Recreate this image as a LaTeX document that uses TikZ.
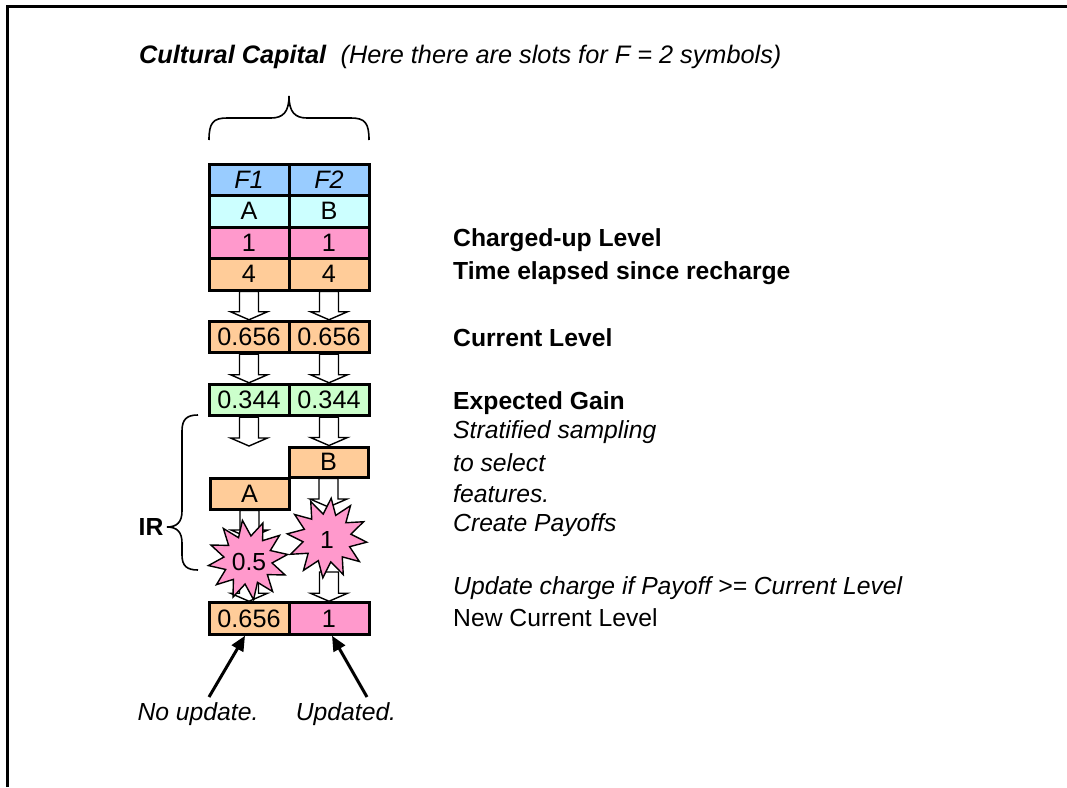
\documentclass[tikz,border=0pt]{standalone}
\usepackage{fontspec}
\setmainfont{Liberation Sans}
\usetikzlibrary{calc,shapes.geometric,arrows.meta}
\definecolor{cblue}{HTML}{99CCFF}
\definecolor{ccyan}{HTML}{CCFFFF}
\definecolor{cpink}{HTML}{FF99CC}
\definecolor{corange}{HTML}{FFCC99}
\definecolor{cgreen}{HTML}{CCFFCC}
\newcommand\blockarrow[2]{\draw[blockarr] let \p1=#1, \p2=#2 in
  (\x1-9.5pt,\y1) -- (\x1-9.5pt,\y2+8pt) -- (\x1-18.5pt,\y2+8pt) -- (\x1,\y2)
  -- (\x1+18.5pt,\y2+8pt) -- (\x1+9.5pt,\y2+8pt) -- (\x1+9.5pt,\y1) -- cycle;}
\begin{document}
\begin{tikzpicture}[x=1pt,y=-1pt,
  every node/.style={font=\fontsize{24.7}{29}\selectfont},
  cell/.style={draw, line width=3pt, minimum width=80pt, minimum height=31.5pt, inner sep=0pt, font=\fontsize{25.2}{29}\selectfont},
  blockarr/.style={draw, fill=white, line width=1.4pt, line join=miter},
  txt/.style={anchor=west, inner sep=0pt},
  brace/.style={draw, line width=1.6pt},
  burst/.style={star, star points=12, star point ratio=1.65, minimum size=80pt, inner sep=0pt, draw, line width=1.4pt, fill=cpink},
  pointer/.style={line width=3pt, -{Triangle[length=15pt,width=13pt]}}]
\useasboundingbox (0,0) rectangle (1067,787);
\fill[white] (0,0) rectangle (1067,787);
% frame
\draw[line width=2.5pt] (7.5,787) -- (7.5,6.5) -- (1067,6.5);
% title
\node[txt, font=\fontsize{25.3}{30}\selectfont] (title) at (139,57) {\textbf{\textit{Cultural Capital}}\ \ \textit{(Here there are slots for F = 2 symbols)}};
% top brace
\draw[brace] (209,140) .. controls (209,123) and (213,118) .. (227,118) -- (271,118)
  .. controls (283,118) and (289,112) .. (289,96)
  .. controls (289,112) and (295,118) .. (307,118) -- (351,118)
  .. controls (365,118) and (369,123) .. (369,140);
% table
\node[cell, fill=cblue] (f1) at (249,179.75) {\textit{F1}};
\node[cell, fill=cblue] (f2) at (329,179.75) {\textit{F2}};
\node[cell, fill=ccyan] (s1) at (249,211.25) {A};
\node[cell, fill=ccyan] (s2) at (329,211.25) {B};
\node[cell, fill=cpink] (p1) at (249,242.75) {1};
\node[cell, fill=cpink] (p2) at (329,242.75) {1};
\node[cell, fill=corange] (o1) at (249,274.25) {4};
\node[cell, fill=corange] (o2) at (329,274.25) {4};
\node[cell, fill=corange] (c1) at (249,337) {0.656};
\node[cell, fill=corange] (c2) at (329,337) {0.656};
\node[cell, fill=cgreen] (g1) at (249,400) {0.344};
\node[cell, fill=cgreen] (g2) at (329,400) {0.344};
\node[cell, fill=corange, minimum width=79pt, minimum height=30pt] (B) at (328.5,462) {B};
\node[cell, fill=corange, minimum width=79pt, minimum height=31pt] (A) at (249.5,493.5) {A};
\node[cell, fill=corange] (n1) at (249,618.5) {0.656};
\node[cell, fill=cpink] (n2) at (329,618.5) {1};
% block arrows
\coordinate (ga) at (249,446);
\coordinate (aa) at (249.5,538);
\coordinate (bb) at (328.5,507);
\coordinate (sa) at (249,572);
\coordinate (sb) at (329,572);
\blockarrow{(o1.south)}{(c1.north)}
\blockarrow{(o2.south)}{(c2.north)}
\blockarrow{(c1.south)}{(g1.north)}
\blockarrow{(c2.south)}{(g2.north)}
\blockarrow{(g1.south)}{(ga)}
\blockarrow{(g2.south)}{(B.north)}
\blockarrow{(A.south)}{(aa)}
\blockarrow{(B.south)}{(bb)}
\blockarrow{(sa)}{(n1.north)}
\blockarrow{(sb)}{(n2.north)}
% bursts
\node[burst, rotate=8] (x1) at (248,560) {};
\node (x1t) at (249,562) {0.5};
\node[burst, rotate=-6] (x2) at (327,538) {};
\node (x2t) at (327,540) {1};
% IR brace
\draw[brace] (198,415) .. controls (187,415) and (182,419) .. (182,431) -- (182,511)
  .. controls (182,522) and (177,527) .. (167,527)
  .. controls (177,527) and (182,532) .. (182,543) -- (182,555)
  .. controls (182,566) and (187,570) .. (198,570);
\node (ir) at (151,527) {\textbf{IR}};
% right texts
\node[txt] (t1) at (453,240) {\textbf{Charged-up Level}};
\node[txt] (t2) at (453,273) {\textbf{Time elapsed since recharge}};
\node[txt] (t3) at (453,338) {\textbf{Current Level}};
\node[txt] (t4) at (453,403) {\textbf{Expected Gain}};
\node[txt] (t5) at (453,432) {\textit{Stratified sampling}};
\node[txt] (t6) at (453,463) {\textit{to select}};
\node[txt] (t7) at (453,494) {\textit{features.}};
\node[txt] (t8) at (453,525) {\textit{Create Payoffs}};
\node[txt] (t9) at (453,588) {\textit{Update charge if Payoff >= Current Level}};
\node[txt] (t10) at (453,618) {New Current Level};
% bottom labels and pointers
\node (nu) at (198,714) {\textit{No update.}};
\node (up) at (346,714) {\textit{Updated.}};
\coordinate (nus) at (209,697);
\coordinate (ups) at (367,697);
\draw[pointer] (nus) -- ($(n1.south)+(-4,0)$);
\draw[pointer] (ups) -- ($(n2.south)+(3,0)$);
\end{tikzpicture}
\end{document}
